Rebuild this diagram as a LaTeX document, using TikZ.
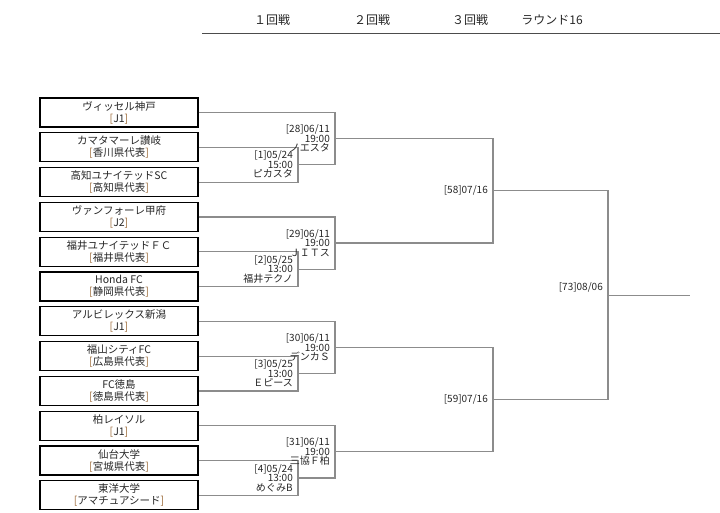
\documentclass[tikz,border=0pt]{standalone}
\usepackage{fontspec}
\setmainfont{Noto Sans CJK JP}
\begin{document}
\begin{tikzpicture}[x=1pt,y=-1pt,
  team/.style={draw=black,line width=1.3pt,minimum width=158pt,minimum height=29pt,inner sep=0pt,align=center,font=\fontsize{10.5}{12}\selectfont,text=black!85},
  lbl/.style={anchor=east,align=right,font=\fontsize{10}{9.5}\selectfont,inner sep=0pt,text=black!85},
  wire/.style={draw=black!45,line width=1.2pt},
  hdr/.style={font=\fontsize{12}{14}\selectfont,text=black!85}]
\useasboundingbox (0,0) rectangle (720,512);
\def\br#1{\textcolor{brown!80!black}{[}#1\textcolor{brown!80!black}{]}}
\node[hdr] (h1) at (272,20) {１回戦};
\node[hdr] (h2) at (372,20) {２回戦};
\node[hdr] (h3) at (470,20) {３回戦};
\node[hdr] (h4) at (552,20) {ラウンド16};
\coordinate (hl) at (202,33); \coordinate (hr) at (720,33);
\draw[black!70,line width=0.8pt] (hl) -- (hr);
\foreach \i/\t/\s in {1/ヴィッセル神戸/J1,2/カマタマーレ讃岐/香川県代表,3/高知ユナイテッドSC/高知県代表,4/ヴァンフォーレ甲府/J2,5/福井ユナイテッドＦＣ/福井県代表,6/Honda FC/静岡県代表,7/アルビレックス新潟/J1,8/福山シティFC/広島県代表,9/FC徳島/徳島県代表,10/柏レイソル/J1,11/仙台大学/宮城県代表,12/東洋大学/アマチュアシード}
  \node[team] (b\i) at (119,{112.5+34.8*(\i-1)}) {\t\\\br{\s}};
\foreach \g/\a/\b/\c/\m/\n/\d/\tm/\v/\dd/\vv in {1/1/2/3/1/28/05/24/15:00/ピカスタ/ノエスタ,2/4/5/6/2/29/05/25/13:00/福井テクノ/ＪＩＴス,3/7/8/9/3/30/05/25/13:00/Ｅピース/デンカＳ,4/10/11/12/4/31/05/24/13:00/めぐみB/三協Ｆ柏}{
  \coordinate (r1t\g) at (298,{112.5+34.8*(\b-1)});
  \coordinate (r1b\g) at (298,{112.5+34.8*(\c-1)});
  \coordinate (r1m\g) at (298,{112.5+34.8*(\b-1)+17.4});
  \coordinate (r2t\g) at (335,{112.5+34.8*(\a-1)});
  \coordinate (r2b\g) at (335,{112.5+34.8*(\b-1)+17.4});
  \coordinate (r2m\g) at (335,{112.5+34.8*(\a-1)+26.1});
  \draw[wire] (b\b.east) -- (r1t\g) -- (r1b\g) -- (b\c.east);
  \draw[wire] (b\a.east) -- (r2t\g) -- (r2b\g) -- (r1m\g);
  \node[lbl] (m\m) at (293,{112.5+34.8*(\b-1)+17.4}) {[\m]\d/\tm\\\v\\\dd};
  \node[lbl] (n\n) at (330,{112.5+34.8*(\a-1)+26.1}) {[\n]06/11\\19:00\\\vv};
}
\coordinate (r3t1) at (493,{112.5+26.1}); \coordinate (r3b1) at (493,{112.5+34.8*3+26.1});
\coordinate (r3t2) at (493,{112.5+34.8*6+26.1}); \coordinate (r3b2) at (493,{112.5+34.8*9+26.1});
\draw[wire] (r2m1) -- (r3t1) -- (r3b1) -- (r2m2);
\draw[wire] (r2m3) -- (r3t2) -- (r3b2) -- (r2m4);
\node[lbl] (q58) at (488,{112.5+34.8*1.5+26.1}) {[58]07/16};
\node[lbl] (q59) at (488,{112.5+34.8*7.5+26.1}) {[59]07/16};
\coordinate (r3m1) at (493,{112.5+34.8*1.5+26.1}); \coordinate (r3m2) at (493,{112.5+34.8*7.5+26.1});
\coordinate (r4t) at (608,{112.5+34.8*1.5+26.1}); \coordinate (r4b) at (608,{112.5+34.8*7.5+26.1});
\coordinate (r4m) at (608,{112.5+34.8*4.5+26.1}); \coordinate (fin) at (690,{112.5+34.8*4.5+26.1});
\draw[wire] (r3m1) -- (r4t) -- (r4b) -- (r3m2);
\draw[wire] (r4m) -- (fin);
\node[lbl] (f73) at (603,{112.5+34.8*4.5+18}) {[73]08/06};
\end{tikzpicture}
\end{document}
